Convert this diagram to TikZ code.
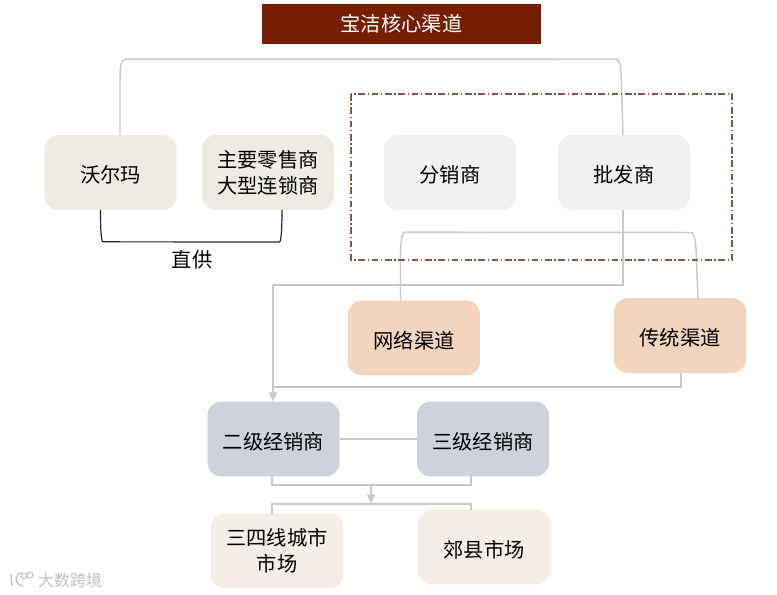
\documentclass[tikz,border=0pt]{standalone}
\usepackage{fontspec}
\setmainfont{Noto Sans CJK SC}
\usetikzlibrary{arrows.meta}
\definecolor{titlered}{HTML}{761F00}
\definecolor{dashred}{HTML}{8F5448}
\definecolor{linegray}{HTML}{C9C9C9}
\definecolor{boxkhaki}{HTML}{EDEBE2}
\definecolor{boxgray}{HTML}{F1F1F1}
\definecolor{boxpeach}{HTML}{F3D5BD}
\definecolor{boxblue}{HTML}{CFD2DC}
\definecolor{boxcream}{HTML}{F4EEE4}
\tikzset{
  box/.style={rounded corners=10pt,minimum width=99pt,minimum height=56pt,
    inner sep=0pt,outer sep=0pt,align=center,
    font=\fontsize{15.2}{19.5}\selectfont,
    execute at begin node=\rule{0pt}{16.5pt}},
  conn/.style={draw=linegray,line width=1.1pt}
}
\begin{document}
\begin{tikzpicture}[x=.75pt,y=-.75pt]
\useasboundingbox (0,0) rectangle (777,595);
\node[minimum width=209pt,minimum height=30pt,inner sep=0pt,outer sep=0pt,fill=titlered,
  text=white,font=\fontsize{15.2}{19.5}\selectfont] (title) at (401.5,24) {宝洁核心渠道};
\node[box,fill=boxkhaki] (walmart) at (110.5,172.5) {沃尔玛};
\node[box,fill=boxkhaki] (retailer) at (268,172.5) {主要零售商\\大型连锁商};
\node[box,fill=boxgray] (fenxiao) at (450,172.5) {分销商};
\node[box,fill=boxgray] (pifa) at (624,172.5) {批发商};
\node[box,fill=boxpeach] (online) at (414,338) {网络渠道};
\node[box,fill=boxpeach] (offline) at (680,335.5) {传统渠道};
\node[box,fill=boxblue] (second) at (273.5,439) {二级经销商};
\node[box,fill=boxblue] (third) at (483,439) {三级经销商};
\node[box,fill=boxcream] (city) at (277,551) {三四线城市\\市场};
\node[box,fill=boxcream] (county) at (484,547) {郊县市场};
\node[font=\fontsize{15.2}{19.5}\selectfont] (direct) at (192,260) {直供};
\node[text=black!25,font=\fontsize{12}{14}\selectfont] (mark) at (70,580) {大数跨境};
% free ends of the connectors
\coordinate (topleft) at (120,59);
\coordinate (topright) at (623,59);
\coordinate (bend) at (273,285);
\coordinate (brackl) at (100.5,242);
\coordinate (brackr) at (282,242);
\coordinate (netl) at (400.5,232.5);
\coordinate (netr) at (698,232.5);
\coordinate (ret) at (681,387);
\coordinate (sumtop) at (371,485);
\coordinate (sumbot) at (371,504);
\coordinate (cityx) at (272,504);
\coordinate (countyx) at (471,504);
% connectors
\draw[conn] (walmart.north -| topleft) -- ++(0,-55) .. controls +(0,-12) and +(-4,0) .. ++(5,-21)
  -- ([xshift=-5]topright) .. controls +(3,0) and +(0,-12) .. ++(5,21) -- (pifa.north -| topright);
\draw[conn] (pifa.south -| topright) |- (bend);
\draw[conn,-{Triangle[length=7pt,width=6pt]}] (bend) -- (second.north -| bend);
\draw[conn] (online.north -| netl) -- ++(0,-45) .. controls +(0,-12) and +(-4,0) .. ++(5,-23.5)
  -- ([xshift=-5]netr) .. controls +(3,0) and +(0,-14) .. ++(5,26) -- (offline.north -| netr);
\draw[conn] (offline.south -| ret) |- (ret -| bend);
\draw[conn] (second) -- (third);
\draw[conn] (second.south -| cityx) |- (sumtop) -| (third.south -| countyx);
\draw[conn,-{Triangle[length=7pt,width=6pt]}] (sumtop) -- (sumbot);
\draw[conn] (city.north -| cityx) |- (sumbot) -| (county.north -| countyx);
\draw[black!85,line width=.9pt] (walmart.south -| brackl) .. controls +(0,18) and +(-2,0) .. ++(2.5,32)
  -- ([xshift=-2]brackr) .. controls +(2,0) and +(0,18) .. (retailer.south -| brackr);
\draw[dashred,line width=1pt,dash pattern=on 5pt off 2pt on 1pt off 2pt] (351,94) rectangle (732,260);
% logo of the watermark
\draw[black!25,line width=1pt] (11,574) -- (12,586) (22,573) .. controls (15,573) and (13,584) .. (23,586);
\draw[black!25,line width=.7pt] (24,576) circle[radius=3] (30,575) circle[radius=3];
\end{tikzpicture}
\end{document}
